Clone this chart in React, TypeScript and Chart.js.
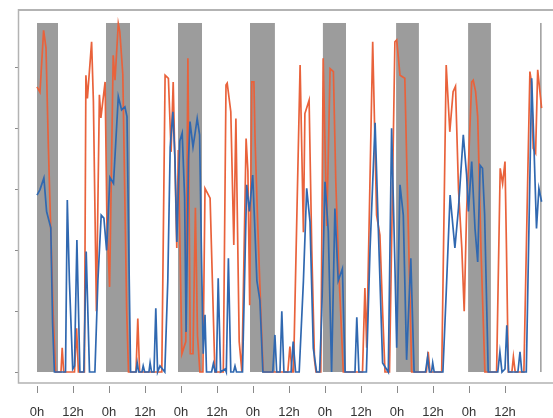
import React, { useEffect, useRef } from 'react';
import { Chart, registerables } from 'chart.js';

Chart.register(...registerables);

// ---- data (hours since start of recording, activity level) ----
const orangeHours = [
  0, 1, 2.2, 3, 3.8, 4.6, 5.4, 6.2, 8, 8.4, 8.9, 12.5, 13.2, 13.8, 15.8, 16.3, 16.8, 18.2, 18.8, 19.8,
  20.8, 21.3, 22.7, 23.3, 24.2, 25.4, 26, 27.1, 27.6, 28.6, 29.9, 30.5, 33, 33.6, 34.2, 41.6, 42.7, 43.8, 44.7, 45.4,
  46.6, 47.1, 48.3, 49.6, 50.3, 51.1, 52, 52.8, 53.5, 54.3, 55.3, 56, 57.7, 59.3, 62.1, 63, 63.4, 64.6, 65.6, 66.3,
  67.4, 68.3, 69.7, 70.3, 70.9, 71.6, 72.3, 72.7, 73.6, 74.6, 75.4, 83.6, 84.3, 85, 85.5, 87.7, 88.8, 89.3, 90.7, 91.6,
  92.5, 93, 94.6, 95.4, 96.6, 97.7, 98.8, 99.6, 100.5, 101.2, 102.1, 108.5, 109.3, 109.9, 111.9, 113.2, 114.3, 115.2, 116, 117.5,
  119.3, 119.9, 121, 122.6, 123.4, 124.9, 129.8, 130.4, 131, 134.9, 136.4, 137.6, 138.7, 139.5, 140.5, 141.6, 142.4, 143.2, 144.9, 145.4,
  146.2, 146.9, 148, 149.3, 153.2, 154.4, 155.2, 156, 156.5, 157.1, 158.3, 158.8, 159.4, 162.3, 163.5, 164.3, 164.8, 165.4, 166.2, 166.9,
  168.2,
];
const orangeValues = [
  4.69, 4.6, 5.62, 5.33, 3.68, 2.31, 0.94, 0, 0, 0.4, 0, 0, 0.72, 0, 0, 4.88, 4.5, 5.43, 4.45, 1.0,
  4.56, 4.18, 4.77, 2.5, 1.4, 5.21, 4.8, 5.73, 5.6, 4.9, 1.0, 0, 0, 0.88, 0, 0, 4.88, 4.83, 3.62, 4.77,
  2.04, 3.65, 0.3, 0.5, 5.16, 0.3, 0.3, 2.7, 0.6, 0, 0, 3.02, 2.86, 0, 0, 4.72, 4.75, 4.28, 2.09, 4.17,
  0.5, 0, 3.84, 3.3, 1.1, 4.77, 4.77, 3.8, 2.4, 1.0, 0, 0, 0.42, 0, 0, 5.05, 2.3, 4.25, 4.47, 2.0,
  0.2, 0, 0, 5.16, 2.4, 4.99, 4.94, 3.13, 1.8, 1.0, 0, 0, 1.38, 0.4, 5.43, 2.58, 2.25, 1.0, 0, 0,
  5.43, 5.46, 4.88, 4.83, 3.13, 0, 0, 0.33, 0, 0, 5.05, 3.95, 4.61, 4.7, 3.0, 2.04, 1.0, 2.64, 4.77, 4.8,
  4.61, 4.2, 2.0, 0, 0, 3.35, 3.1, 3.46, 2.0, 0, 0, 0.25, 0, 0, 3.0, 4.94, 4.77, 3.68, 3.6, 4.97,
  4.34,
];

const blueHours = [
  0, 1, 2.3, 3.2, 4.6, 5.2, 5.8, 9.5, 10.1, 10.8, 11.9, 12.5, 13.3, 14.3, 15.6, 16.4, 17.5, 19.3, 20.3, 21.4,
  22.3, 23.2, 24.3, 25.5, 27.1, 28.2, 29.3, 30, 30.6, 31.2, 33, 33.4, 33.9, 35, 35.4, 35.9, 37.3, 37.7, 38.2, 39,
  39.6, 40.2, 41, 42.6, 43.6, 44.4, 45.3, 46, 46.6, 47.6, 48.4, 49.2, 49.7, 50.5, 51, 52, 52.7, 53.4, 54.2, 54.8,
  55.4, 56, 56.5, 58.2, 58.8, 59.4, 59.8, 60.4, 61.2, 62.7, 63.1, 63.8, 64.6, 65.5, 66, 66.5, 68.5, 69.9, 70.8, 71.9,
  72.5, 73.3, 74.3, 75.3, 78.6, 79.3, 79.9, 81, 81.6, 82.3, 84.7, 85.4, 86.2, 87.4, 88.8, 89.9, 91, 92.1, 93.2, 94.2,
  94.9, 96, 97.1, 98.2, 99.3, 100.4, 101.8, 102.7, 106, 106.6, 107.3, 109.8, 111, 112.7, 113.8, 115.2, 117.1, 118.2, 119.3, 119.9,
  121, 122.1, 123.2, 124.6, 125.7, 129.5, 130.2, 130.8, 131.5, 131.9, 132.4, 135.3, 136.4, 137.7, 139.3, 140.5, 142.1, 143.2, 143.8, 144.9,
  146, 146.9, 147.7, 148.5, 149.2, 150.4, 153.6, 154.3, 155, 156, 156.6, 157.2, 160.3, 161, 161.6, 163.1, 164.9, 165.6, 166.5, 167.3,
  168.2,
];
const blueValues = [
  2.91, 3.0, 3.19, 2.64, 2.37, 0.8, 0, 0, 2.83, 1.5, 0.05, 0.1, 2.17, 0, 0, 1.98, 0, 0, 1.5, 2.58,
  2.53, 2.0, 3.2, 3.1, 4.53, 4.31, 4.36, 4.2, 2.0, 0, 0, 0.15, 0, 0, 0.1, 0, 0, 0.15, 0, 0,
  1.05, 0, 0.1, 0, 1.5, 3.7, 4.28, 3.5, 2.14, 3.8, 3.93, 2.88, 0.66, 3.5, 4.12, 3.7, 3.93, 4.17, 3.9, 2.0,
  0.3, 0.94, 0, 0, 0.14, 0, 0, 1.54, 0, 0.05, 0, 1.87, 0, 0, 0.1, 0, 0, 3.08, 2.64, 3.24,
  2.5, 1.5, 1.18, 0, 0, 0.61, 0, 0, 1.0, 0, 0, 0.5, 0, 0, 1.49, 3.02, 2.47, 0.39, 0, 0,
  0.94, 3.13, 2.31, 0, 2.69, 1.5, 1.7, 0, 0, 0.9, 0, 0, 2.0, 4.1, 2.31, 0.15, 0, 4.01, 1.76, 0.4,
  3.08, 2.58, 0.2, 1.87, 0, 0, 0.25, 0, 0, 0.15, 0, 0, 1.3, 2.91, 2.04, 2.7, 3.9, 3.24, 2.64, 3.46,
  2.36, 1.81, 3.4, 3.35, 2.6, 0, 0, 0.33, 0, 0.05, 0.77, 0, 0, 0.33, 0, 0, 4.83, 3.8, 2.36, 3.02,
  2.8,
];

// night periods (grey bands), in hours
const nightStarts = [0, 23, 47, 71, 95.3, 119.7, 143.7, 167.7];
const nightEnds = [7, 31, 55, 79.3, 103, 127.3, 151.3, 168.2];
const nightTop = 5.74;

const xTickHours = [0, 12, 24, 36, 48, 60, 72, 84, 96, 108, 120, 132, 144, 156];
const xTickLabels = ['0h', '12h', '0h', '12h', '0h', '12h', '0h', '12h', '0h', '12h', '0h', '12h', '0h', '12h'];
const yTickValues = [0, 1, 2, 3, 4, 5];
const frameBottom = -0.18;

const ORANGE = '#E9623B';
const BLUE = '#3068B0';
const NIGHT = '#9c9c9c';
const FRAME = '#b3b3b3';

const nightPlugin = {
  id: 'nightBands',
  beforeDatasetsDraw(chart: any) {
    const { ctx, chartArea, scales } = chart;
    const xs = scales.x;
    const ys = scales.y;
    ctx.save();
    ctx.beginPath();
    ctx.rect(chartArea.left, chartArea.top, chartArea.right - chartArea.left, chartArea.bottom - chartArea.top);
    ctx.clip();
    ctx.fillStyle = NIGHT;
    const yTop = ys.getPixelForValue(nightTop);
    const yBot = ys.getPixelForValue(0);
    for (let i = 0; i < nightStarts.length; i++) {
      const x0 = xs.getPixelForValue(nightStarts[i]);
      const x1 = xs.getPixelForValue(nightEnds[i]);
      ctx.fillRect(x0, yTop, x1 - x0, yBot - yTop);
    }
    ctx.restore();
  },
};

const framePlugin = {
  id: 'frame',
  afterDraw(chart: any) {
    const { ctx, chartArea, scales } = chart;
    const yb = Math.round(scales.y.getPixelForValue(frameBottom));
    ctx.save();
    ctx.strokeStyle = FRAME;
    ctx.lineWidth = 2;
    ctx.beginPath();
    ctx.moveTo(chartArea.left - 1, chartArea.top + 1);
    ctx.lineTo(chartArea.right, chartArea.top + 1);
    ctx.stroke();
    ctx.lineWidth = 1.5;
    ctx.beginPath();
    ctx.moveTo(chartArea.left - 0.5, chartArea.top);
    ctx.lineTo(chartArea.left - 0.5, yb);
    ctx.lineTo(chartArea.right, yb);
    ctx.stroke();
    ctx.restore();
  },
};

export default function App() {
  const ref = useRef<HTMLCanvasElement | null>(null);
  useEffect(() => {
    if (!ref.current) return;
    const chart = new Chart(ref.current, {
      type: 'line',
      data: {
        datasets: [
          {
            label: 'blue',
            data: blueHours.map((h, i) => ({ x: h, y: blueValues[i] })),
            borderColor: BLUE,
            borderWidth: 1.7,
            pointRadius: 0,
            tension: 0,
            fill: false,
          },
          {
            label: 'orange',
            data: orangeHours.map((h, i) => ({ x: h, y: orangeValues[i] })),
            borderColor: ORANGE,
            borderWidth: 1.7,
            pointRadius: 0,
            tension: 0,
            fill: false,
          },
        ],
      },
      options: {
        responsive: false,
        animation: false,
        devicePixelRatio: 1,
        layout: { padding: { top: 9, left: 0, right: 0, bottom: 0 } },
        plugins: { legend: { display: false }, tooltip: { enabled: false } },
        scales: {
          x: {
            type: 'linear',
            min: -6,
            max: 172,
            afterBuildTicks: (s: any) => {
              s.ticks = xTickHours.map((v) => ({ value: v }));
            },
            afterFit: (s: any) => {
              s.height = 32;
            },
            ticks: {
              autoSkip: false,
              maxRotation: 0,
              padding: 12,
              color: '#333',
              font: { family: 'Liberation Sans, Arial, sans-serif', size: 13 },
              callback: (_v: any, i: number) => xTickLabels[i],
            },
            grid: { drawOnChartArea: false, drawTicks: true, tickLength: 7, color: '#8a8a8a', lineWidth: 1 },
            border: { display: false },
          },
          y: {
            type: 'linear',
            min: -0.23,
            max: 5.97,
            afterBuildTicks: (s: any) => {
              s.ticks = yTickValues.map((v) => ({ value: v }));
            },
            afterFit: (s: any) => {
              s.width = 19;
            },
            ticks: { display: false },
            grid: { drawOnChartArea: false, drawTicks: true, tickLength: 4, color: '#8a8a8a', lineWidth: 1 },
            border: { display: false },
          },
        },
      },
      plugins: [nightPlugin, framePlugin],
    });
    return () => chart.destroy();
  }, []);
  return (
    <div style={{ position: 'absolute', left: 0, top: 0, width: 553, height: 418, background: '#fff' }}>
      <canvas ref={ref} width={553} height={418} />
    </div>
  );
}
